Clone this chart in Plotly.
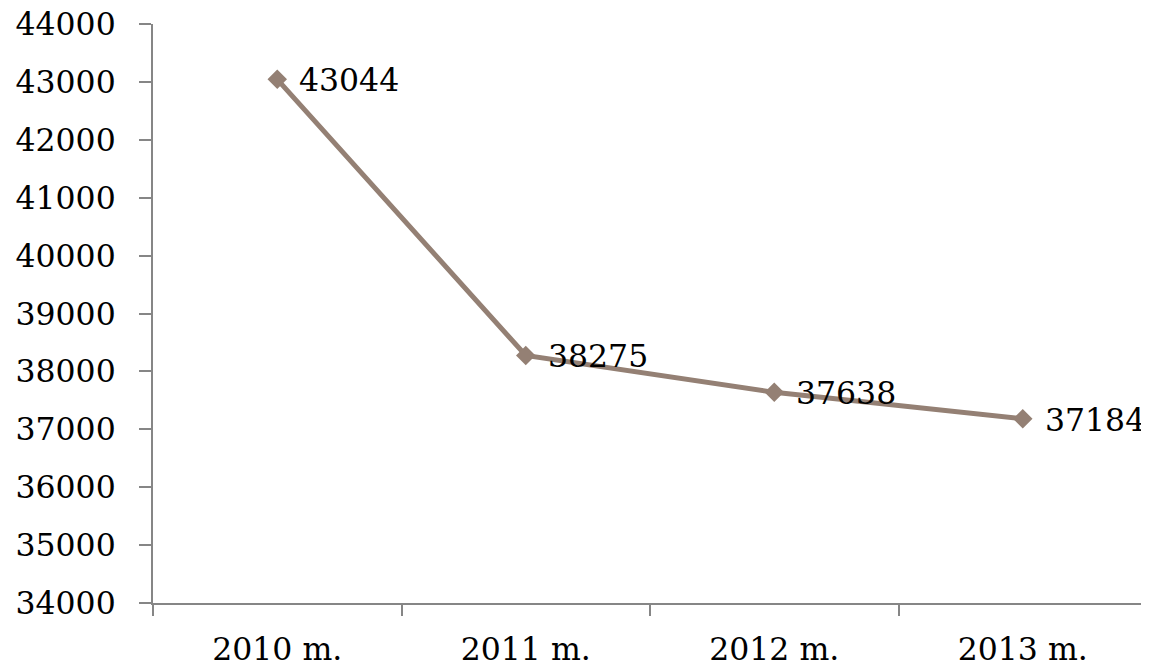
import plotly.graph_objects as go

categories = ["2010 m.", "2011 m.", "2012 m.", "2013 m."]
values = [43044, 38275, 37638, 37184]
y_ticks = list(range(34000, 44001, 1000))

line_color = "rgb(148,128,116)"
axis_color = "rgb(134,134,134)"
font_family = "DejaVu Serif"

fig = go.Figure()
fig.add_trace(go.Scatter(
    x=categories, y=values, mode="lines+markers",
    line=dict(color=line_color, width=5),
    marker=dict(symbol="diamond", size=15, color=line_color),
    showlegend=False, hoverinfo="skip",
))
for c, v in zip(categories, values):
    fig.add_annotation(x=c, y=v, text=str(v), showarrow=False,
                       xanchor="left", yanchor="middle", xshift=20, yshift=-1,
                       font=dict(family=font_family, size=31.5, color="black"))

# page body adds an 8px offset; compensate in size and margins
fig.update_layout(
    width=1141, height=658,
    margin=dict(l=145, r=2, t=16, b=63, autoexpand=False),
    paper_bgcolor="white", plot_bgcolor="white",
    font=dict(family=font_family, size=31.5, color="black"),
)
fig.update_xaxes(
    type="category", range=[-0.5, 3.5], tickson="boundaries",
    ticks="outside", ticklen=11, tickwidth=2, tickcolor=axis_color,
    showline=True, linecolor=axis_color, linewidth=2,
    showgrid=False, zeroline=False, ticklabelstandoff=17,
    ticklabeloverflow="allow",
)
fig.update_yaxes(
    range=[34000, 44000], tickvals=y_ticks, ticktext=[str(t) for t in y_ticks],
    ticks="outside", ticklen=12, tickwidth=2, tickcolor=axis_color,
    showline=True, linecolor=axis_color, linewidth=2,
    showgrid=False, zeroline=False, ticklabelstandoff=17,
    ticklabeloverflow="allow",
)
fig.write_html("out.html")
